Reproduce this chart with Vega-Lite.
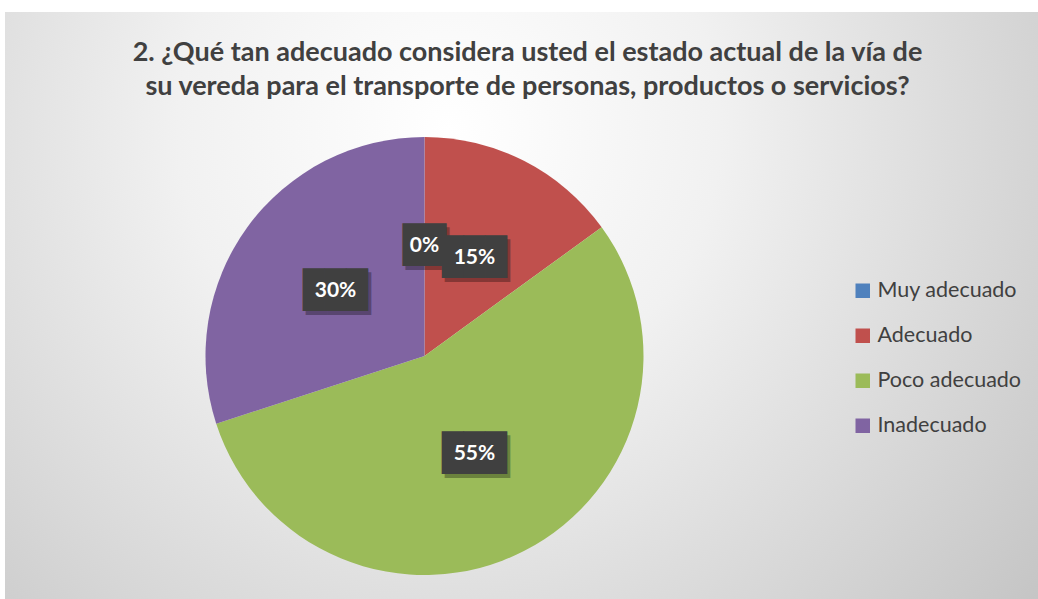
{
  "$schema": "https://vega.github.io/schema/vega-lite/v6.json",
  "width": 1033,
  "height": 587,
  "autosize": {"type": "none"},
  "padding": {"left": 5, "top": 12, "right": 0, "bottom": 0},
  "background": "#ffffff",
  "view": {
    "stroke": null,
    "fill": {
      "gradient": "radial",
      "x1": 0.43, "y1": 0.33, "x2": 0.43, "y2": 0.33,
      "r1": 0, "r2": 0.75,
      "stops": [
        {"offset": 0, "color": "#ffffff"},
        {"offset": 0.35, "color": "#f1f1f1"},
        {"offset": 1, "color": "#c3c3c3"}
      ]
    }
  },
  "title": {
    "text": ["2. ¿Qué tan adecuado considera usted el estado actual de la vía de", "su vereda para el transporte de personas, productos o servicios?"],
    "font": "Lato",
    "fontSize": 27,
    "fontWeight": "bold",
    "color": "#404040",
    "lineHeight": 34,
    "anchor": "middle",
    "orient": "top",
    "offset": -89,
    "dx": 6
  },
  "data": {
    "values": [
      {"categoria": "Muy adecuado", "porcentaje": 0, "orden": 1},
      {"categoria": "Adecuado", "porcentaje": 0.15, "orden": 2},
      {"categoria": "Poco adecuado", "porcentaje": 0.55, "orden": 3},
      {"categoria": "Inadecuado", "porcentaje": 0.30, "orden": 4}
    ]
  },
  "layer": [
    {
      "mark": {"type": "arc", "radius": 219, "x": {"expr": "width * 0.4061"}, "y": {"expr": "height * 0.586"}, "stroke": null},
      "encoding": {
        "theta": {"field": "porcentaje", "type": "quantitative", "stack": true},
        "order": {"field": "orden", "type": "quantitative"},
        "color": {
          "field": "categoria",
          "type": "nominal",
          "scale": {
            "domain": ["Muy adecuado", "Adecuado", "Poco adecuado", "Inadecuado"],
            "range": ["#4f81bd", "#c0504d", "#9bbb59", "#8064a2"]
          },
          "legend": {
            "orient": "none",
            "legendX": 847,
            "legendY": 268,
            "title": null,
            "symbolType": "square",
            "symbolSize": 210,
            "symbolStrokeWidth": 0,
            "labelFont": "Lato",
            "labelFontSize": 21.5,
            "labelColor": "#404040",
            "labelOffset": 4,
            "rowPadding": 22,
            "padding": 0
          }
        }
      }
    },
    {
      "mark": {"type": "text", "radius": 110, "x": {"expr": "width * 0.4061"}, "y": {"expr": "height * 0.586"}, "font": "DejaVu Sans Mono", "fontSize": 36, "color": "#000000", "opacity": 0.3, "dx": 3, "dy": 4, "align": "center", "baseline": "middle"},
      "encoding": {
        "theta": {"field": "porcentaje", "type": "quantitative", "stack": true},
        "order": {"field": "orden", "type": "quantitative"},
        "detail": {"field": "categoria", "type": "nominal"},
        "text": {"condition": {"test": "datum.porcentaje == 0", "value": "██"}, "value": "███"}
      }
    },
    {
      "mark": {"type": "text", "radius": 110, "x": {"expr": "width * 0.4061"}, "y": {"expr": "height * 0.586"}, "font": "DejaVu Sans Mono", "fontSize": 36, "color": "#404040", "align": "center", "baseline": "middle"},
      "encoding": {
        "theta": {"field": "porcentaje", "type": "quantitative", "stack": true},
        "order": {"field": "orden", "type": "quantitative"},
        "detail": {"field": "categoria", "type": "nominal"},
        "text": {"condition": {"test": "datum.porcentaje == 0", "value": "██"}, "value": "███"}
      }
    },
    {
      "mark": {"type": "text", "radius": 110, "x": {"expr": "width * 0.4061"}, "y": {"expr": "height * 0.586"}, "font": "Lato", "fontSize": 21, "fontWeight": "bold", "color": "#ffffff", "align": "center", "baseline": "middle"},
      "encoding": {
        "theta": {"field": "porcentaje", "type": "quantitative", "stack": true},
        "order": {"field": "orden", "type": "quantitative"},
        "detail": {"field": "categoria", "type": "nominal"},
        "text": {"field": "porcentaje", "type": "quantitative", "format": ".0%"}
      }
    }
  ]
}
